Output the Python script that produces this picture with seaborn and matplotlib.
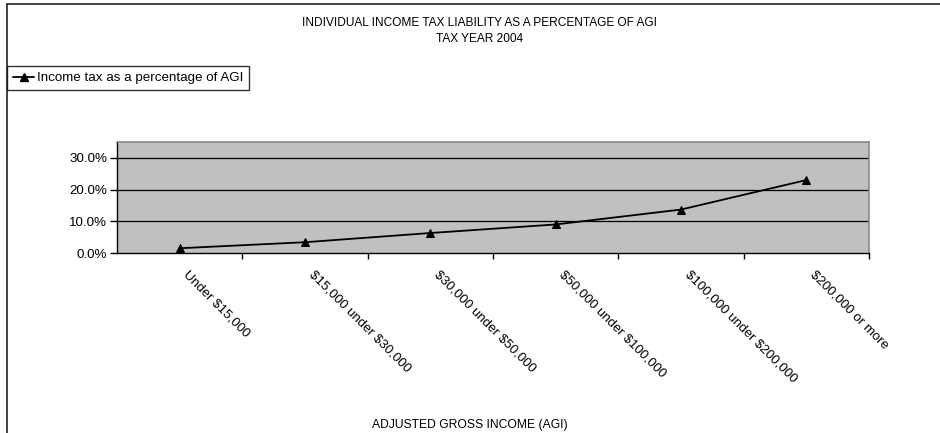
import matplotlib
matplotlib.use("Agg")
import matplotlib.pyplot as plt
from matplotlib.lines import Line2D
from matplotlib.ticker import FixedLocator, PercentFormatter
from matplotlib.transforms import ScaledTranslation
import seaborn as sns
import pandas as pd

# Income groups and effective tax rate (percent of AGI), tax year 2004
income_groups = [
    "Under $15,000",
    "$15,000 under $30,000",
    "$30,000 under $50,000",
    "$50,000 under $100,000",
    "$100,000 under $200,000",
    "$200,000 or more",
]
tax_pct_of_agi = [1.5, 3.4, 6.3, 9.0, 13.7, 23.0]
y_ticks = [0, 10, 20, 30]

series_name = "Income tax as a percentage of AGI"
title_text = "INDIVIDUAL INCOME TAX LIABILITY AS A PERCENTAGE OF AGI\nTAX YEAR 2004"
xlabel_text = "ADJUSTED GROSS INCOME (AGI)"

df = pd.DataFrame({
    "pos": list(range(len(income_groups))),
    "group": income_groups,
    "pct": tax_pct_of_agi,
})

sns.set_theme(style="white")
plt.rcParams["font.family"] = ["Liberation Sans", "DejaVu Sans"]
plt.rcParams["text.parse_math"] = False  # keep "$" as literal dollar signs
plt.rcParams["text.color"] = "black"
plt.rcParams["xtick.color"] = "black"
plt.rcParams["ytick.color"] = "black"
plt.rcParams["xtick.labelcolor"] = "black"
plt.rcParams["ytick.labelcolor"] = "black"

W, H = 940, 433
fig = plt.figure(figsize=(W / 100, H / 100), dpi=100)

# Plot area in pixel coordinates
left, right, top, bottom = 117, 869, 142, 253
ax = fig.add_axes([left / W, 1 - bottom / H, (right - left) / W, (bottom - top) / H])
ax.set_facecolor("#C0C0C0")

sns.lineplot(data=df, x="pos", y="pct", ax=ax, color="black", linewidth=1.3,
             marker="^", markersize=6, markeredgecolor="black", legend=False,
             zorder=3)

ax.set_xlim(-0.5, len(income_groups) - 0.5)
ax.set_ylim(0, 35)

# Horizontal gridlines
for v in y_ticks[1:]:
    ax.axhline(v, color="black", linewidth=0.9, zorder=1)

ax.yaxis.set_major_locator(FixedLocator(y_ticks))
ax.yaxis.set_major_formatter(PercentFormatter(decimals=1))
ax.tick_params(axis="y", which="major", direction="out", length=5, width=1,
               color="black", labelcolor="black", labelsize=9.6, pad=2, left=True)

# Category labels at centres, tick marks at category boundaries
ax.set_xticks(df["pos"])
ax.set_xticklabels(df["group"], rotation=-45, ha="left", va="top",
                   rotation_mode="anchor", fontsize=9.6, color="black")
ax.tick_params(axis="x", which="major", length=0, pad=11)
shift = ScaledTranslation(10 / 100, 0, fig.dpi_scale_trans)
for lbl in ax.get_xticklabels():
    lbl.set_transform(lbl.get_transform() + shift)
ax.xaxis.set_minor_locator(FixedLocator([p + 0.5 for p in range(len(income_groups))]))
ax.tick_params(axis="x", which="minor", direction="out", length=4, width=1,
               color="black", bottom=True)
ax.set_xlabel("")
ax.set_ylabel("")

for side in ("left", "bottom"):
    ax.spines[side].set_color("black")
    ax.spines[side].set_linewidth(1)
for side in ("top", "right"):
    ax.spines[side].set_color("#8A8A8A")
    ax.spines[side].set_linewidth(1.2)

# Chart area border
fig.add_artist(Line2D([7 / W, 1.0], [1 - 4 / H, 1 - 4 / H], color="#222222",
                      linewidth=1.2, transform=fig.transFigure))
fig.add_artist(Line2D([7 / W, 7 / W], [1 - 4 / H, 0], color="#222222",
                      linewidth=1.2, transform=fig.transFigure))

fig.text(480 / W, 1 - 31 / H, title_text, ha="center", va="center",
         fontsize=8.6, linespacing=1.45, color="black")
fig.text(470 / W, 1 - 425 / H, xlabel_text, ha="center", va="center",
         fontsize=8.7, color="black")

handle = Line2D([], [], color="black", linewidth=1.3, marker="^", markersize=6)
leg = fig.legend([handle], [series_name], loc="upper left",
                 bbox_to_anchor=(7 / W, 1 - 66 / H), bbox_transform=fig.transFigure,
                 fontsize=9.6, frameon=True, fancybox=False, edgecolor="black",
                 handlelength=1.6, handletextpad=0.2, borderpad=0.45,
                 borderaxespad=0)
leg.get_frame().set_linewidth(1)
for t in leg.get_texts():
    t.set_color("black")

fig.savefig("out.png", dpi=100, facecolor="white")
